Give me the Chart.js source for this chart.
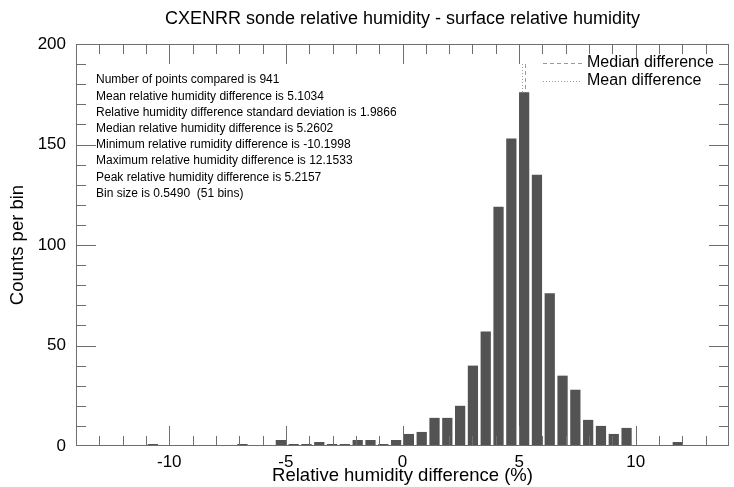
<!DOCTYPE html>
<html>
<head>
<meta charset="utf-8">
<script src="https://cdn.jsdelivr.net/npm/chart.js@4/dist/chart.umd.min.js"></script>
<style>
  html, body { margin: 0; padding: 0; background: #fff; }
</style>
</head>
<body>
<canvas id="histChart" width="734" height="487"></canvas>
<script>
// histogram range and binning (51 bins over -14..14)
const xMin = -14;
const xMax = 14;
const binCount = 51;
const binSize = (xMax - xMin) / binCount;

// counts per bin, left to right
const binCounts = [
  0, 0, 0, 0, 0, 0, 1, 0, 0, 0,
  0, 0, 0, 1, 0, 0, 3, 1, 1, 2,
  1, 1, 3, 3, 1, 3, 6, 7, 14, 14,
  20, 40, 57, 119, 153, 176, 135, 76, 35, 28,
  13, 10, 6, 9, 0, 0, 0, 2, 0, 0,
  0
];
const binCenters = binCounts.map((c, i) => xMin + i * binSize);

const meanDiff = 5.1034;
const medianDiff = 5.2602;

const statLines = [
  'Number of points compared is 941',
  'Mean relative humidity difference is 5.1034',
  'Relative humidity difference standard deviation is 1.9866',
  'Median relative humidity difference is 5.2602',
  'Minimum relative rumidity difference is -10.1998',
  'Maximum relative humidity difference is 12.1533',
  'Peak relative humidity difference is 5.2157',
  'Bin size is 0.5490  (51 bins)'
];

const titleText = 'CXENRR sonde relative humidity - surface relative humidity';
const xTitle = 'Relative humidity difference (%)';
const yTitle = 'Counts per bin';
const legendItems = [
  { label: 'Median difference', dash: [4, 3] },
  { label: 'Mean difference', dash: [1, 2] }
];

const FONT = '"Liberation Sans", Arial, Helvetica, sans-serif';
const LINE_GREY = '#9a9a9a';
const AXIS_GREY = '#6e6e6e';

// vertical mean / median markers, drawn under the bars
const markerLines = {
  id: 'markerLines',
  beforeDatasetsDraw(chart) {
    const { ctx, scales: { x, y } } = chart;
    ctx.save();
    ctx.strokeStyle = LINE_GREY;
    ctx.lineWidth = 1;
    [[medianDiff, [4, 3]], [meanDiff, [1, 2]]].forEach(([v, dash]) => {
      const px = Math.round(x.getPixelForValue(v)) + 0.5;
      ctx.setLineDash(dash);
      ctx.beginPath();
      ctx.moveTo(px, y.getPixelForValue(0));
      ctx.lineTo(px, y.getPixelForValue(190));
      ctx.stroke();
    });
    ctx.restore();
  }
};

// box, inward ticks, titles, stats text and legend
const frame = {
  id: 'frame',
  afterDatasetsDraw(chart) {
    const { ctx, chartArea: a, scales: { x, y } } = chart;
    ctx.save();
    ctx.strokeStyle = AXIS_GREY;
    ctx.lineWidth = 1;
    ctx.strokeRect(a.left + 0.5, a.top + 0.5, a.right - a.left - 1, a.bottom - a.top - 1);

    ctx.beginPath();
    for (let v = -13; v <= 13; v++) {
      const px = Math.round(x.getPixelForValue(v)) + 0.5;
      const len = v % 5 === 0 ? 20 : 10;
      ctx.moveTo(px, a.bottom); ctx.lineTo(px, a.bottom - len);
      ctx.moveTo(px, a.top); ctx.lineTo(px, a.top + len);
    }
    for (let v = 10; v < 200; v += 10) {
      const py = Math.round(y.getPixelForValue(v)) + 0.5;
      const len = v % 50 === 0 ? 20 : 10;
      ctx.moveTo(a.left, py); ctx.lineTo(a.left + len, py);
      ctx.moveTo(a.right, py); ctx.lineTo(a.right - len, py);
    }
    ctx.stroke();
    ctx.restore();
  },
  afterDraw(chart) {
    const { ctx, chartArea: a } = chart;
    const midX = (a.left + a.right) / 2;
    ctx.save();
    ctx.fillStyle = '#000';

    ctx.textAlign = 'center';
    ctx.textBaseline = 'middle';
    ctx.font = '18px ' + FONT;
    ctx.fillText(titleText, midX, 19);

    ctx.font = '18.5px ' + FONT;
    ctx.fillText(xTitle, midX, 476);

    ctx.save();
    ctx.translate(18, (a.top + a.bottom) / 2);
    ctx.rotate(-Math.PI / 2);
    ctx.fillText(yTitle, 0, 0);
    ctx.restore();

    ctx.textAlign = 'left';
    ctx.font = '12px ' + FONT;
    statLines.forEach((t, i) => ctx.fillText(t, 96, 80 + i * 16.2));

    ctx.font = '16px ' + FONT;
    ctx.strokeStyle = LINE_GREY;
    ctx.lineWidth = 1;
    legendItems.forEach((item, i) => {
      const ly = 63 + i * 18;
      ctx.setLineDash(item.dash);
      ctx.beginPath();
      ctx.moveTo(543, ly + 0.5);
      ctx.lineTo(582, ly + 0.5);
      ctx.stroke();
      ctx.fillText(item.label, 587, ly);
    });
    ctx.restore();
  }
};

const ctx = document.getElementById('histChart').getContext('2d');
const histChart = new Chart(ctx, {
  type: 'bar',
  data: {
    datasets: [{
      data: binCenters.map((x, i) => ({ x: x, y: binCounts[i] })),
      backgroundColor: '#535353',
      borderWidth: 0,
      barPercentage: 0.8,
      categoryPercentage: 1.0
    }]
  },
  options: {
    responsive: false,
    animation: false,
    layout: { padding: { top: 44, right: 5, left: 0, bottom: 0 } },
    plugins: {
      legend: { display: false },
      tooltip: { enabled: false }
    },
    scales: {
      x: {
        type: 'linear',
        min: xMin,
        max: xMax,
        offset: false,
        grid: { display: false, drawTicks: false, offset: false },
        border: { display: false },
        ticks: {
          stepSize: 5,
          includeBounds: false,
          padding: 6,
          color: '#000',
          font: { size: 17, family: FONT }
        },
        afterFit: (scale) => { scale.height = 41; }
      },
      y: {
        min: 0,
        max: 200,
        grid: { display: false, drawTicks: false },
        border: { display: false },
        ticks: {
          stepSize: 50,
          padding: 10,
          color: '#000',
          font: { size: 17, family: FONT }
        },
        afterFit: (scale) => { scale.width = 76; }
      }
    }
  },
  plugins: [markerLines, frame]
});
</script>
</body>
</html>
